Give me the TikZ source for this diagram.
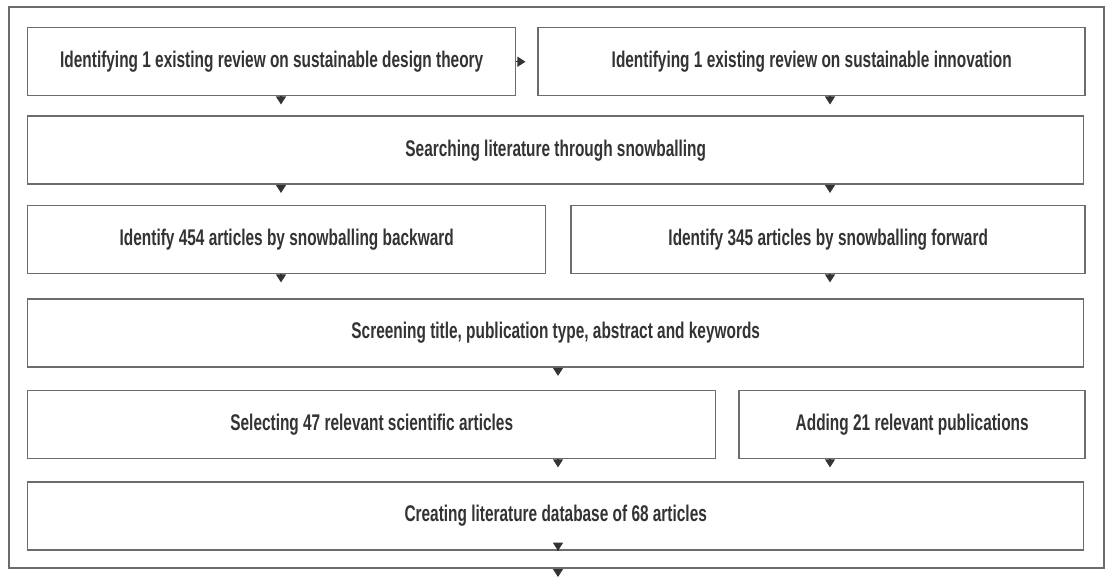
\documentclass[tikz,border=0pt]{standalone}
\usepackage{fontspec}
\setmainfont{Liberation Sans}[FakeStretch=0.68]
\usepackage{xcolor}
\definecolor{FlowInk}{HTML}{333333}
\definecolor{FlowLine}{HTML}{6C6C6C}
\usetikzlibrary{arrows.meta,positioning}

\begin{document}
\begin{tikzpicture}[x=0.75pt,y=-0.75pt,
    stage/.style={draw=FlowLine,line width=1.1pt,minimum height=51pt,inner sep=0pt,
      font=\fontsize{17}{19}\selectfont\bfseries,text=FlowInk},
    frame/.style={draw=FlowLine,line width=1.1pt,minimum width=821.25pt,minimum height=420.75pt,inner sep=0pt},
    flow/.style={-{Triangle[length=6pt,width=7.5pt]},line width=0.8pt,color=FlowInk,shorten >=#1}
  ]
    \useasboundingbox (0,0) rectangle (1106,577);
    \node[frame] (outer) at (556.5,287.5) {};
    \coordinate (colA) at (281,0);
    \coordinate (colB) at (558,0);
    \coordinate (colC) at (830,0);
    \coordinate (exit) at (558,577);

    \node[stage,minimum width=366pt,anchor=north west] (review1) at (27,27)
      {Identifying 1 existing review on sustainable design theory};
    \node[stage,minimum width=410.25pt,right=15.75pt of review1] (review2)
      {Identifying 1 existing review on sustainable innovation};
    \node[stage,minimum width=792pt,below right=14.25pt and 0pt of review1.south west] (snowball)
      {Searching literature through snowballing};
    \node[stage,minimum width=388.5pt,below right=15pt and 0pt of snowball.south west] (backward)
      {Identify 454 articles by snowballing backward};
    \node[stage,minimum width=385.5pt,right=18pt of backward] (forward)
      {Identify 345 articles by snowballing forward};
    \node[stage,minimum width=792pt,below right=18pt and 0pt of backward.south west] (screening)
      {Screening title, publication type, abstract and keywords};
    \node[stage,minimum width=516pt,below right=16.5pt and 0pt of screening.south west] (selected)
      {Selecting 47 relevant scientific articles};
    \node[stage,minimum width=259.5pt,right=16.5pt of selected] (added)
      {Adding 21 relevant publications};
    \node[stage,minimum width=792pt,below right=16.5pt and 0pt of selected.south west] (database)
      {Creating literature database of 68 articles};

    \draw[flow=9pt] (review1) -- (review2);
    \draw[flow=8.25pt] (review1.south -| colA) -- (snowball.north -| colA);
    \draw[flow=8.25pt] (review2.south -| colC) -- (snowball.north -| colC);
    \draw[flow=9pt] (snowball.south -| colA) -- (backward.north -| colA);
    \draw[flow=9pt] (snowball.south -| colC) -- (forward.north -| colC);
    \draw[flow=12pt] (backward.south -| colA) -- (screening.north -| colA);
    \draw[flow=12pt] (forward.south -| colC) -- (screening.north -| colC);
    \draw[flow=10.5pt] (screening.south -| colB) -- (selected.north -| colB);
    \draw[flow=10.5pt] (selected.south -| colB) -- (database.north -| colB);
    \draw[flow=10.5pt] (added.south -| colC) -- (database.north -| colC);
    \draw[flow=13.5pt] (database.south -| colB) -- (outer.south -| colB);
    \draw[flow=0pt] (outer.south -| colB) -- (exit);
  \end{tikzpicture}
\end{document}
